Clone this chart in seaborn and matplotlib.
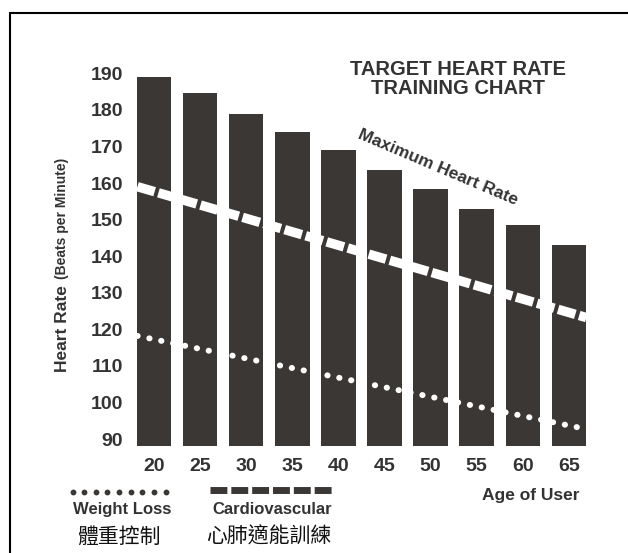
import numpy as np
import matplotlib
matplotlib.use("Agg")
import matplotlib.pyplot as plt
import seaborn as sns
from matplotlib.lines import Line2D

# Datos
ages = [20, 25, 30, 35, 40, 45, 50, 55, 60, 65]
max_heart_rate = [189, 184.5, 179, 174, 169, 163.5, 158.5, 153, 148.5, 143]
line_ages = [18.2, 66.9]
cardio_zone = [159.0, 123.2]
weight_loss_zone = [118.2, 92.7]
y_ticks = [90, 100, 110, 120, 130, 140, 150, 160, 170, 180, 190]

BAR_COLOR = "#3b3735"
TEXT_COLOR = "#333333"
W, H = 628, 553


def fx(x):
    return x / W


def fy(y):
    return 1 - y / H


sns.set_theme(style="white")
plt.rcParams["font.family"] = ["Liberation Sans", "DejaVu Sans"]
cjk = ["Noto Sans CJK TC", "DejaVu Sans"]

fig = plt.figure(figsize=(W / 100, H / 100), dpi=100)
fig.patch.set_facecolor("white")

# ejes en pixeles: izquierda 128, derecha 620, arriba 60, abajo 446
ax = fig.add_axes([fx(128), fy(446), fx(620) - fx(128), fy(60) - fy(446)])

sns.barplot(x=ages, y=max_heart_rate, native_scale=True, color=BAR_COLOR,
            saturation=1, width=0.75, linewidth=0, ax=ax)

sns.lineplot(x=line_ages, y=cardio_zone, color="white", linewidth=6.8,
             linestyle=(0, (1.9, 0.42)), dash_capstyle="butt", ax=ax)
sns.lineplot(x=line_ages, y=weight_loss_zone, color="white", linewidth=4.3,
             linestyle=(0, (0.05, 1.98)), dash_capstyle="round", ax=ax)

ax.set_xlim(17.18, 70.54)
ax.set_ylim(88.09, 193.64)
ax.set_xticks(ages)
ax.set_xticklabels([str(a) for a in ages], fontsize=14, fontweight="bold",
                   color=TEXT_COLOR)
ax.set_yticks(y_ticks)
ax.set_yticklabels([str(v) for v in y_ticks], fontsize=14, fontweight="bold",
                   color=TEXT_COLOR)
ax.tick_params(axis="x", length=0, pad=8.5)
ax.tick_params(axis="y", length=0, pad=3.6)
for s in ax.spines.values():
    s.set_visible(False)
ax.set_xlabel("")
ax.set_ylabel("")

# Titulos y etiquetas
fig.text(fx(458), fy(79), "TARGET HEART RATE\nTRAINING CHART", ha="center",
         va="center", multialignment="center", fontsize=14.5,
         fontweight="bold", color=TEXT_COLOR, linespacing=1.0)
fig.text(fx(438), fy(167), "Maximum Heart Rate", ha="center", va="center",
         rotation=-23, rotation_mode="anchor", fontsize=12.5,
         fontweight="bold", color=TEXT_COLOR)
fig.text(fx(67), fy(372), "Heart Rate", ha="left", va="baseline", rotation=90,
         rotation_mode="anchor", fontsize=12.5, fontweight="bold",
         color=TEXT_COLOR)
fig.text(fx(66), fy(279), "(Beats per Minute)", ha="left", va="baseline",
         rotation=90, rotation_mode="anchor", fontsize=10, fontweight="bold",
         color=TEXT_COLOR)

# Leyenda inferior
dots_x = np.linspace(72.5, 165.5, 9)
fig.add_artist(Line2D([fx(x) for x in dots_x], [fy(491.5)] * 9,
                      linestyle="none", marker="o", markersize=4.2,
                      color=BAR_COLOR, markeredgewidth=0))
fig.add_artist(Line2D([fx(210), fx(333)], [fy(489.5), fy(489.5)],
                      color=BAR_COLOR, linewidth=5.0,
                      linestyle=(0, (2.43, 0.571)), dash_capstyle="butt"))
fig.text(fx(122), fy(514), "Weight Loss", ha="center", va="baseline",
         fontsize=12, fontweight="bold", color=TEXT_COLOR)
fig.text(fx(272.5), fy(514), "Cardiovascular", ha="center", va="baseline",
         fontsize=12, fontweight="bold", color=TEXT_COLOR)
fig.text(fx(531), fy(500), "Age of User", ha="center", va="baseline",
         fontsize=12.5, fontweight="bold", color=TEXT_COLOR)
fig.text(fx(119), fy(537), "體重控制", ha="center", va="center",
         fontsize=15, family=cjk, color="#111111")
fig.text(fx(268.5), fy(537), "心肺適能訓練", ha="center", va="center",
         fontsize=15, family=cjk, color="#111111")

# Marco
fig.add_artist(Line2D([fx(10), fx(10)], [fy(13), fy(560)], color="black",
                      linewidth=1.5))
fig.add_artist(Line2D([fx(10), fx(640)], [fy(13), fy(13)], color="black",
                      linewidth=1.5))

fig.savefig("out.png", dpi=100)
plt.close(fig)
